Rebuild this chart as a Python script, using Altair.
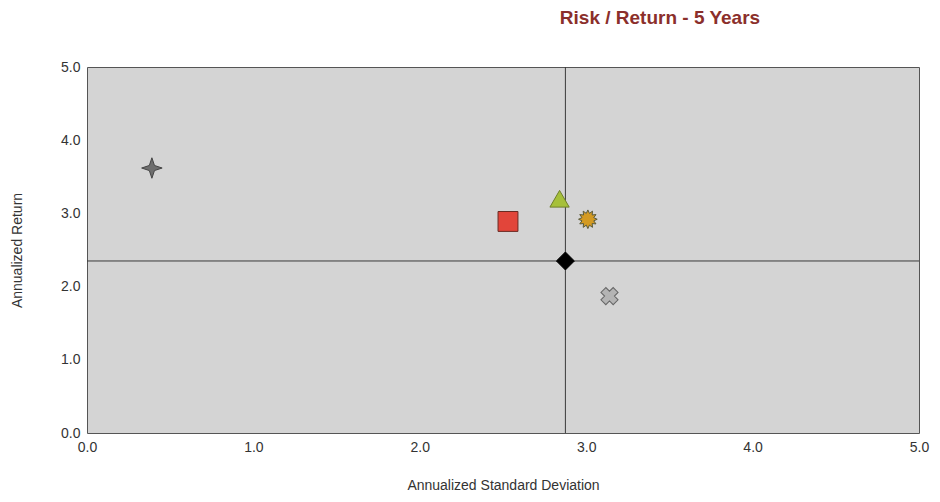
import altair as alt
import pandas as pd

# Data
series = ["A", "B", "C", "D", "E", "F"]
std_dev = [0.39, 2.53, 2.84, 3.01, 2.875, 3.14]
returns = [3.62, 2.89, 3.20, 2.92, 2.35, 1.87]
shapes = [
    "M0,-1 L0.25,-0.25 L1,0 L0.25,0.25 L0,1 L-0.25,0.25 L-1,0 L-0.25,-0.25 Z",
    "square",
    "triangle-up",
    "M0,-1 L0.17,-0.63 L0.5,-0.87 L0.46,-0.46 L0.87,-0.5 L0.63,-0.17 L1,0 L0.63,0.17 L0.87,0.5 L0.46,0.46 L0.5,0.87 L0.17,0.63 L0,1 L-0.17,0.63 L-0.5,0.87 L-0.46,0.46 L-0.87,0.5 L-0.63,0.17 L-1,0 L-0.63,-0.17 L-0.87,-0.5 L-0.46,-0.46 L-0.5,-0.87 L-0.17,-0.63 Z",
    "diamond",
    "cross",
]
fills = ["#6e6e6e", "#e2453a", "#a6c03a", "#d39a22", "#000000", "#b4b4b4"]
strokes = ["#444444", "#6a2a22", "#6f7f2a", "#5a5a3a", "#000000", "#666666"]
sizes = [420, 300, 380, 300, 130, 260]
angles = [0, 0, 0, 0, 0, 45]

bench_x = 2.875
bench_y = 2.35

df = pd.DataFrame({"series": series, "sd": std_dev, "ret": returns, "angle": angles})

FONT = "Liberation Sans"
W, H = 832, 366
xs = alt.Scale(domain=[0, 5], nice=False, zero=False)
ys = alt.Scale(domain=[0, 5], nice=False, zero=False)

common = dict(values=[0, 1, 2, 3, 4, 5], format=".1f", grid=False, ticks=False, domain=False,
              labelFlush=False, labelFont=FONT, labelFontSize=14, labelColor="#333333",
              titleFont=FONT, titleFontSize=14, titleFontWeight="normal", titleColor="#333333")
xaxis = alt.Axis(title="Annualized Standard Deviation", labelPadding=7, titlePadding=24, **common)
yaxis = alt.Axis(title="Annualized Return", labelPadding=7, titlePadding=36, **common)

cross_df = pd.DataFrame({"bx": [bench_x], "by": [bench_y]})

vline = alt.Chart(cross_df).mark_rule(color="#3a3a3a", strokeWidth=1).encode(
    x=alt.X("bx:Q", scale=xs, axis=xaxis))
hline = alt.Chart(cross_df).mark_rule(color="#3a3a3a", strokeWidth=1).encode(
    y=alt.Y("by:Q", scale=ys, axis=yaxis))

points = alt.Chart(df).mark_point(filled=True, opacity=1, strokeWidth=1).encode(
    x=alt.X("sd:Q", scale=xs, axis=xaxis),
    y=alt.Y("ret:Q", scale=ys, axis=yaxis),
    shape=alt.Shape("series:N", scale=alt.Scale(domain=series, range=shapes), legend=None),
    fill=alt.Fill("series:N", scale=alt.Scale(domain=series, range=fills), legend=None),
    stroke=alt.Stroke("series:N", scale=alt.Scale(domain=series, range=strokes), legend=None),
    size=alt.Size("series:N", scale=alt.Scale(domain=series, range=sizes), legend=None),
    angle=alt.Angle("angle:Q", scale=None),
)

chart = alt.layer(vline, hline, points).properties(
    width=W, height=H,
    autosize=alt.AutoSizeParams(type="none"),
    padding={"left": 79, "top": 59, "right": 13, "bottom": 61},
    title=alt.TitleParams("Risk / Return - 5 Years", font=FONT, fontSize=19,
                          fontWeight="bold", color="#8b2f2b", anchor="middle", dx=157, offset=32),
).configure(
    background="#ffffff",
    view=alt.ViewConfig(fill="#d4d4d4", stroke="#555555", strokeWidth=1),
)

chart.save("out.html", embed_options={"renderer": "svg", "actions": False})
